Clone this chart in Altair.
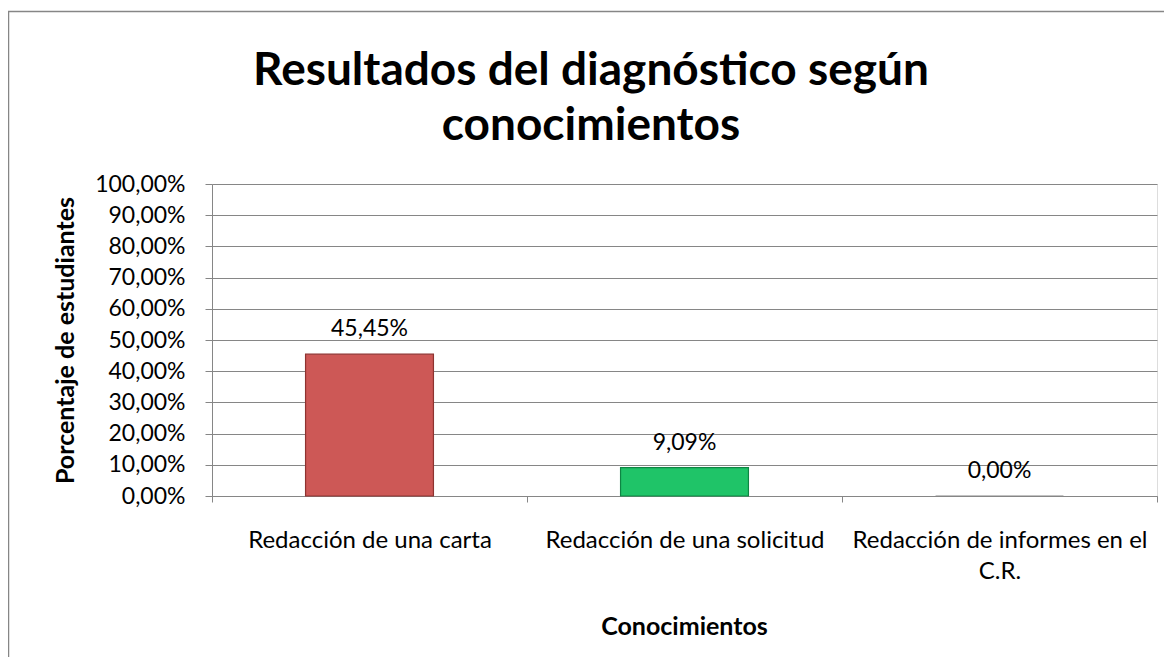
import altair as alt
import pandas as pd

categories = ["Redacción de una carta", "Redacción de una solicitud", "Redacción de informes en el C.R."]
values = [0.4545, 0.0909, 0.0]
fill_colors = ["#CD5856", "#1FC468", "#8064A2"]
stroke_colors = ["#8E3330", "#0E8543", "#868686"]
y_ticks = [0, 0.1, 0.2, 0.3, 0.4, 0.5, 0.6, 0.7, 0.8, 0.9, 1.0]
title_lines = ["Resultados del diagnóstico según", "conocimientos"]
y_title = "Porcentaje  de estudiantes"
x_title = "Conocimientos"

df = pd.DataFrame({"Categoria": categories, "Valor": values})

FONT = "Lato"
GRID = "#868686"
W, H = 945, 312

pct_expr = "replace(format(datum.value, '.2%'), '.', ',')"

x_enc = alt.X(
    "Categoria:N",
    sort=categories,
    scale=alt.Scale(paddingInner=0, paddingOuter=0),
    axis=alt.Axis(
        title=x_title,
        titleFont=FONT, titleFontSize=25, titleFontWeight="bold", titleColor="black",
        titleX=472, titleY=130, titleAlign="center", titleBaseline="middle",
        labelFont=FONT, labelFontSize=24, labelColor="black", labelAngle=0,
        labelPadding=26, labelLimit=500, labelLineHeight=31,
        labelBaseline="top",
        labelExpr="datum.label == 'Redacción de informes en el C.R.' ? ['Redacción de informes en el', 'C.R.'] : datum.label",
        tickBand="extent", tickSize=6, tickColor=GRID, domainColor=GRID,
        grid=False,
    ),
)

y_enc = alt.Y(
    "Valor:Q",
    scale=alt.Scale(domain=[0, 1], nice=False),
    axis=alt.Axis(
        title=y_title, values=y_ticks, labelExpr=pct_expr, labelOverlap=False,
        titleFont=FONT, titleFontSize=25, titleFontWeight="bold", titleColor="black",
        titleX=-147, titleY=156, titleAngle=270, titleBaseline="middle", titleAlign="center",
        labelFont=FONT, labelFontSize=23, labelColor="black", labelPadding=20,
        tickSize=7, tickColor=GRID, domainColor=GRID,
        grid=True, gridColor=GRID, gridWidth=1,
    ),
)

bars = alt.Chart(df).mark_bar(width=alt.RelativeBandSize(0.406), strokeWidth=1.2).encode(
    x=x_enc,
    y=y_enc,
    color=alt.Color("Categoria:N", scale=alt.Scale(domain=categories, range=fill_colors), legend=None),
    stroke=alt.Stroke("Categoria:N", scale=alt.Scale(domain=categories, range=stroke_colors), legend=None),
)

labels = alt.Chart(df).transform_calculate(
    etiqueta="replace(format(datum.Valor, '.2%'), '.', ',')"
).mark_text(font=FONT, fontSize=23, color="black", baseline="alphabetic", dy=-18).encode(
    x=x_enc,
    y=y_enc,
    text="etiqueta:N",
)

border = alt.Chart(alt.Data(values=[{"k": 1}])).mark_rect(
    fill="transparent", stroke=GRID, strokeWidth=1.5
).encode(
    x=alt.value(-203.5), x2=alt.value(W + 40),
    y=alt.value(-172.5), y2=alt.value(H + 200),
)

title = alt.Chart(alt.Data(values=[{"k": 1}])).mark_text(
    text=title_lines, font=FONT, fontSize=46, fontWeight="bold", color="black",
    align="center", baseline="top", lineHeight=55,
).encode(
    x=alt.value(379), y=alt.value(-135),
)

chart = alt.layer(border, title, bars, labels).properties(
    width=W, height=H,
    autosize=alt.AutoSizeParams(type="none"),
    padding={"left": 204, "top": 176, "right": 7, "bottom": 161},
).configure_view(strokeWidth=0, stroke="transparent").configure(background="white")

chart.save("out.html", embed_options={"renderer": "svg", "actions": False})
